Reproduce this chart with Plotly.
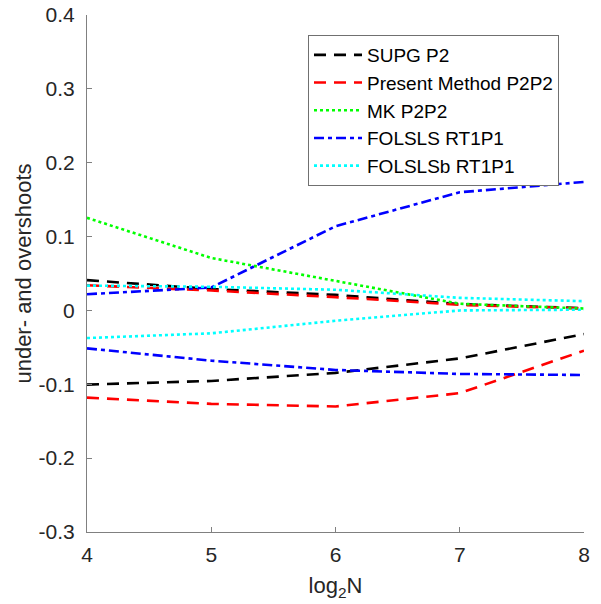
import plotly.graph_objects as go

x_vals = [4, 5, 6, 7, 8]

supg_over = [0.041, 0.029, 0.021, 0.0085, 0.003]
supg_under = [-0.1004, -0.0955, -0.0846, -0.065, -0.032]

present_over = [0.034, 0.027, 0.018, 0.0075, 0.0026]
present_under = [-0.118, -0.1265, -0.130, -0.112, -0.0545]

mk_over = [0.1254, 0.071, 0.040, 0.009, 0.0026]

folsls_over = [0.022, 0.031, 0.114, 0.160, 0.174]
folsls_under = [-0.0514, -0.068, -0.0806, -0.086, -0.0874]

folslsb_over = [0.0336, 0.032, 0.028, 0.017, 0.0125]
folslsb_under = [-0.0374, -0.031, -0.014, 0.0, 0.001]

y_tick_vals = [-0.3, -0.2, -0.1, 0, 0.1, 0.2, 0.3, 0.4]
y_tick_text = ["-0.3", "-0.2", "-0.1", "0", "0.1", "0.2", "0.3", "0.4"]
x_tick_vals = [4, 5, 6, 7, 8]

series = [
    ("SUPG P2", supg_over, supg_under, "#000000", "12px,8px"),
    ("Present Method P2P2", present_over, present_under, "#ff0000", "12px,8px"),
    ("MK P2P2", mk_over, None, "#00ff00", "3px,3px"),
    ("FOLSLS RT1P1", folsls_over, folsls_under, "#0000ff", "10px,4px,4px,4px"),
    ("FOLSLSb RT1P1", folslsb_over, folslsb_under, "#00ffff", "3px,3px"),
]

fig = go.Figure()
for name, over, under, color, dash in series:
    xs = list(x_vals)
    ys = list(over)
    if under is not None:
        xs = xs + [None] + list(x_vals)
        ys = ys + [None] + list(under)
    fig.add_trace(go.Scatter(
        x=xs, y=ys, mode="lines", name=name,
        line=dict(color=color, width=2.6, dash=dash),
        connectgaps=False,
    ))

axis_color = "#808080"
fig.update_layout(
    width=601, height=604,
    margin=dict(l=87, r=17, t=15, b=72, autoexpand=False),
    paper_bgcolor="white", plot_bgcolor="white",
    font=dict(family="Liberation Sans, Arial, sans-serif", color="#262626"),
    showlegend=True,
    legend=dict(
        x=(308 - 87) / 497, y=(532 - 35) / 517, xanchor="left", yanchor="top",
        bgcolor="white", bordercolor="#707070", borderwidth=1,
        font=dict(size=19, color="#000000"),
        tracegroupgap=0, itemwidth=48,
    ),
    xaxis=dict(
        range=[4, 8], tickvals=x_tick_vals,
        showline=True, linecolor=axis_color, linewidth=1,
        ticks="inside", ticklen=5, tickcolor=axis_color,
        showgrid=False, zeroline=False, mirror=False, automargin=False,
        ticklabelstandoff=4,
        tickfont=dict(size=21, color="#262626"),
        title=dict(text="log<sub>2</sub>N", font=dict(size=22, color="#262626"), standoff=12),
    ),
    yaxis=dict(
        range=[-0.3, 0.4], tickvals=y_tick_vals, ticktext=y_tick_text,
        showline=True, linecolor=axis_color, linewidth=1,
        ticks="inside", ticklen=5, tickcolor=axis_color,
        showgrid=False, zeroline=False, mirror=False, automargin=False,
        ticklabelstandoff=7,
        tickfont=dict(size=21, color="#262626"),
        title=dict(text="under- and overshoots", font=dict(size=22, color="#262626"), standoff=0),
    ),
)

fig.write_html("out.html", post_script="document.body.style.margin='0';",
               config={"displayModeBar": False})
